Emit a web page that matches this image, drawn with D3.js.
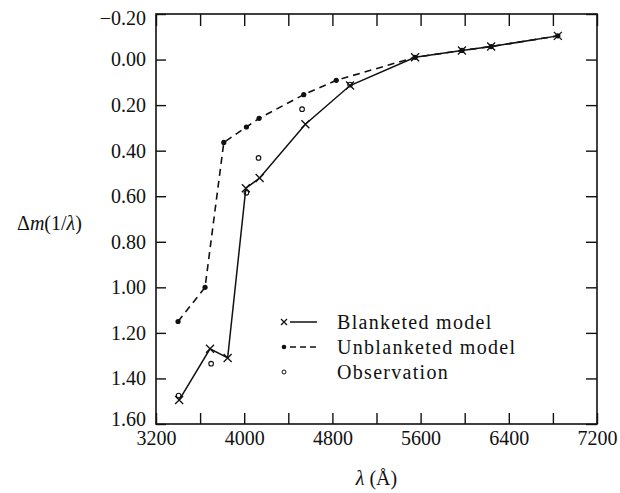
<!DOCTYPE html>
<html>
<head>
<meta charset="utf-8">
<script src="https://cdn.jsdelivr.net/npm/d3@7"></script>
<style>
  body { margin: 0; background: #fff; }
  svg { display: block; }
</style>
</head>
<body>
<svg id="canvas" width="620" height="493"></svg>
<script>
// wavelengths (Angstrom) and magnitude differences
let blanketedLambda = [3410, 3690, 3850, 4015, 4140, 4555, 4960, 5550, 5975, 6240, 6845]
let blanketedDm     = [1.495, 1.27, 1.31, 0.565, 0.52, 0.284, 0.114, -0.01, -0.04, -0.057, -0.104]

let unblanketedLambda = [3400, 3645, 3815, 4020, 4135, 4540, 4835, 5550, 5975, 6240, 6845]
let unblanketedDm     = [1.15, 1.0, 0.364, 0.296, 0.258, 0.154, 0.091, -0.01, -0.04, -0.057, -0.104]

let obsLambda = [3405, 3700, 4020, 4130, 4525, 4960]
let obsDm     = [1.475, 1.335, 0.585, 0.432, 0.218, 0.11]

let xTicks = [3200, 3600, 4000, 4400, 4800, 5200, 5600, 6000, 6400, 6800, 7200]
let xTickLabels = [3200, 4000, 4800, 5600, 6400, 7200]
let yTicks = [-0.2, 0, 0.2, 0.4, 0.6, 0.8, 1.0, 1.2, 1.4, 1.6]

let legendLabels = ['Blanketed model', 'Unblanketed model', 'Observation']

let canvas = d3.select('#canvas')
let font = '"Liberation Serif", "Times New Roman", serif'
let ink = '#111'

let margin = {top: 14, left: 156, right: 23, bottom: 69},
    width = 620 - margin.left - margin.right,
    height = 493 - margin.top - margin.bottom

let x = d3.scaleLinear().domain([3200, 7200]).range([margin.left, margin.left + width])
let y = d3.scaleLinear().domain([-0.2, 1.6]).range([margin.top, margin.top + height])

function fmtY(d) {
    let s = Math.abs(d).toFixed(2)
    return d < 0 ? '\u2212' + s : s
}

function styleAxis(g) {
    g.select('.domain').remove()
    g.selectAll('line').attr('stroke', ink).attr('stroke-width', 1.4)
    g.selectAll('text')
        .attr('font-family', font)
        .attr('font-size', 20)
        .attr('fill', ink)
}

// bottom
canvas.append('g')
    .attr('transform', 'translate(0,' + (margin.top + height) + ')')
    .call(d3.axisBottom(x).tickValues(xTicks).tickSize(-11).tickSizeOuter(0).tickPadding(7)
        .tickFormat(d => xTickLabels.includes(d) ? d : ''))
    .call(styleAxis)

// top
canvas.append('g')
    .attr('transform', 'translate(0,' + margin.top + ')')
    .call(d3.axisTop(x).tickValues(xTicks).tickSize(-12).tickSizeOuter(0).tickFormat(''))
    .call(styleAxis)

// left
let yAxisG = canvas.append('g')
    .attr('transform', 'translate(' + margin.left + ',0)')
    .call(d3.axisLeft(y).tickValues(yTicks).tickSize(-10).tickSizeOuter(0).tickPadding(10).tickFormat(fmtY))
    .call(styleAxis)

// the end labels sit a little inside the frame, as in the print
yAxisG.selectAll('.tick text')
    .attr('y', d => d === 1.6 ? -5 : (d === -0.2 ? 4 : 0))

// right
canvas.append('g')
    .attr('transform', 'translate(' + (margin.left + width) + ',0)')
    .call(d3.axisRight(y).tickValues(yTicks).tickSize(-11).tickSizeOuter(0).tickFormat(''))
    .call(styleAxis)

// frame
canvas.append('rect')
    .attr('x', margin.left)
    .attr('y', margin.top)
    .attr('width', width)
    .attr('height', height)
    .attr('fill', 'none')
    .attr('stroke', ink)
    .attr('stroke-width', 1.6)

let blanketed = blanketedLambda.map((l, i) => [l, blanketedDm[i]])
let unblanketed = unblanketedLambda.map((l, i) => [l, unblanketedDm[i]])
let observed = obsLambda.map((l, i) => [l, obsDm[i]])

let line = d3.line().x(d => x(d[0])).y(d => y(d[1]))

canvas.append('path')
    .attr('d', line(unblanketed))
    .attr('fill', 'none')
    .attr('stroke', ink)
    .attr('stroke-width', 1.6)
    .attr('stroke-dasharray', '7,5')

canvas.append('path')
    .attr('d', line(blanketed))
    .attr('fill', 'none')
    .attr('stroke', ink)
    .attr('stroke-width', 1.5)

function cross(sel, cx, cy, r) {
    sel.append('path')
        .attr('d', 'M' + (cx - r) + ',' + (cy - r) + 'L' + (cx + r) + ',' + (cy + r) +
                   'M' + (cx - r) + ',' + (cy + r) + 'L' + (cx + r) + ',' + (cy - r))
        .attr('stroke', ink)
        .attr('stroke-width', 1.3)
}

canvas.selectAll('circle.unbl')
    .data(unblanketed)
    .enter()
    .append('circle')
    .attr('class', 'unbl')
    .attr('cx', d => x(d[0]))
    .attr('cy', d => y(d[1]))
    .attr('r', 2.6)
    .attr('fill', ink)

blanketed.forEach(d => cross(canvas, x(d[0]), y(d[1]), 4))

canvas.selectAll('circle.obs')
    .data(observed)
    .enter()
    .append('circle')
    .attr('class', 'obs')
    .attr('cx', d => x(d[0]))
    .attr('cy', d => y(d[1]))
    .attr('r', 2.3)
    .attr('fill', 'none')
    .attr('stroke', ink)
    .attr('stroke-width', 1.1)

// legend
let legX = 284, legY = 322, legStep = 25
let leg = canvas.append('g')

cross(leg, legX, legY, 3)
leg.append('line').attr('x1', legX + 6).attr('x2', legX + 33).attr('y1', legY).attr('y2', legY)
    .attr('stroke', ink).attr('stroke-width', 1.5)

leg.append('circle').attr('cx', legX).attr('cy', legY + legStep).attr('r', 2.3).attr('fill', ink)
leg.append('line').attr('x1', legX + 6).attr('x2', legX + 33).attr('y1', legY + legStep).attr('y2', legY + legStep)
    .attr('stroke', ink).attr('stroke-width', 1.5).attr('stroke-dasharray', '6,4')

leg.append('circle').attr('cx', legX).attr('cy', legY + 2 * legStep).attr('r', 2)
    .attr('fill', 'none').attr('stroke', ink).attr('stroke-width', 1)

leg.selectAll('text')
    .data(legendLabels)
    .enter()
    .append('text')
    .attr('x', legX + 53)
    .attr('y', (d, i) => legY + i * legStep)
    .attr('dy', '0.35em')
    .attr('font-family', font)
    .attr('font-size', 20)
    .attr('letter-spacing', 1.3)
    .attr('fill', ink)
    .text(d => d)

// axis titles
let yl = canvas.append('text')
    .attr('x', 17)
    .attr('y', 223)
    .attr('dy', '0.35em')
    .attr('font-family', font)
    .attr('font-size', 20)
    .attr('fill', ink)
yl.append('tspan').text('\u0394')
yl.append('tspan').attr('font-style', 'italic').text('m')
yl.append('tspan').text('(1/')
yl.append('tspan').attr('font-style', 'italic').text('\u03bb')
yl.append('tspan').text(')')

let xl = canvas.append('text')
    .attr('x', x(5200))
    .attr('y', 478)
    .attr('dy', '0.35em')
    .attr('text-anchor', 'middle')
    .attr('font-family', font)
    .attr('font-size', 20)
    .attr('fill', ink)
xl.append('tspan').attr('font-style', 'italic').text('\u03bb')
xl.append('tspan').text(' (\u00c5)')
</script>
</body>
</html>
